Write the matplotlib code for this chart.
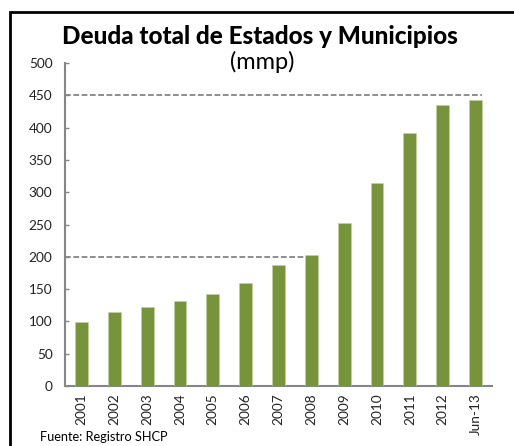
import matplotlib as mpl
import matplotlib.pyplot as plt
from matplotlib.patches import Rectangle

#-- data (mmp)
periodos = ['2001', '2002', '2003', '2004', '2005', '2006', '2007',
            '2008', '2009', '2010', '2011', '2012', 'Jun-13']
deuda = [99, 114, 123, 131, 143, 160, 187, 203, 252, 314, 391, 435, 443]

#-- dashed reference lines: level and last category they reach
ref_niveles = [200, 450]
ref_hasta = ['2008', 'Jun-13']

plt.rcParams['font.family'] = ['Lato', 'DejaVu Sans']

verde = '#77933C'
gris = '#868686'

fig = plt.figure(figsize=(5.14, 4.46), dpi=100)
ax = fig.add_axes([0.1265, 0.1345, 0.9572 - 0.1265, 0.8587 - 0.1345])

x = list(range(len(periodos)))
ax.bar(x, deuda, width=0.39, color=verde, edgecolor='#C3D69B',
       linewidth=0.4, zorder=3)

for nivel, fin in zip(ref_niveles, ref_hasta):
    xf = periodos.index(fin) + 0.2
    ax.plot([-0.5, xf], [nivel, nivel], color=gris, lw=1.3,
            dashes=(3.2, 1.4), zorder=2)

ax.set_xlim(-0.5, len(periodos) - 0.5)
ax.set_ylim(0, 500)
ax.set_yticks(range(0, 501, 50))
ax.set_xticks(x)
ax.set_xticklabels(periodos, rotation=90)

for s in ['top', 'right']:
    ax.spines[s].set_visible(False)
for s in ['left', 'bottom']:
    ax.spines[s].set_color(gris)
    ax.spines[s].set_linewidth(1.5)

ax.tick_params(axis='y', direction='in', length=3, width=1, color=gris,
               labelsize=9.8, pad=9, labelcolor='#222222')
ax.tick_params(axis='x', length=0, labelsize=9.8, pad=5,
               labelcolor='#222222')

#-- titles
fig.text(0.506, 0.919, 'Deuda total de Estados y Municipios',
         ha='center', va='center', fontsize=17.5, fontweight='black')
fig.text(0.51, 0.862, '(mmp)', ha='center', va='center', fontsize=17)
fig.text(0.078, 0.02, 'Fuente: Registro SHCP', ha='left', va='center',
         fontsize=9.2)

#-- frame around the chart (runs off right and bottom)
fig.patches.append(Rectangle((10 / 514, -0.05), 1.1, (446 - 12) / 446 + 0.05,
                             transform=fig.transFigure, fill=False,
                             edgecolor='black', linewidth=2, zorder=10))

plt.savefig('out.png', dpi=100)
